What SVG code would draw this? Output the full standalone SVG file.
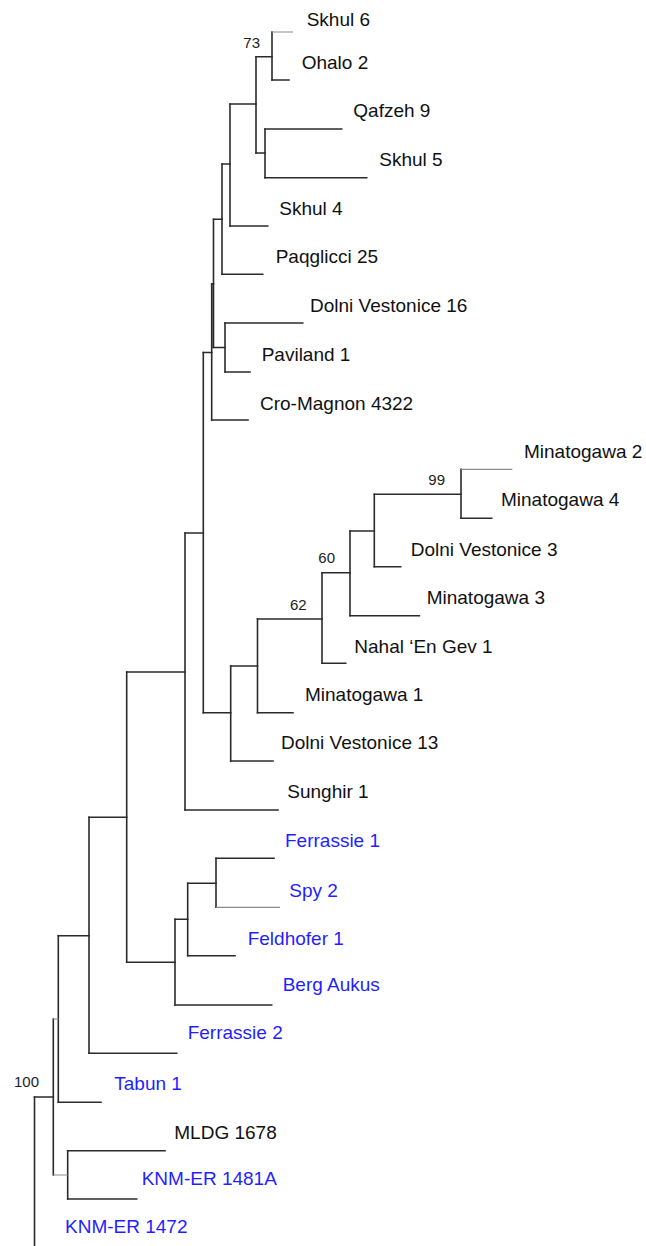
<svg xmlns="http://www.w3.org/2000/svg" width="646" height="1246" viewBox="0 0 646 1246">
<style>
.e{fill:none;stroke:#2b2b2b;stroke-width:1.6;stroke-linecap:square}
.g{fill:none;stroke:#8c8c8c;stroke-width:1.2}
.t{font-family:"Liberation Sans",Arial,sans-serif;font-size:19px;fill:#111}
.b{fill:#1f1fff}
.s{font-family:"Liberation Sans",Arial,sans-serif;font-size:15px;fill:#222}
</style>
<rect width="646" height="1246" fill="#fff"/>
<g id="connectors">
<!-- verticals -->
<path class="e" d="M272,32V80 M265,129V177.7 M256,56.7V153 M230,104V226 M222,164V274.3 M225,323V372 M213.5,219.3V347.5 M211.7,284V420 M461,469.3V518.3 M374.3,494.3V566.7 M350,531V615.7 M322,572.7V663.3 M257.5,619V712.7 M230.7,666V761 M203.3,352.5V712.7 M185,533V810 M216,858.3V907.3 M187.7,883.3V955.7 M175,919.3V1005 M126.7,672V962.3 M89,817.3V1053.3 M58.3,935.7V1102.3 M67.7,1150.7V1199 M53.3,1019V1175 M34.5,1097V1246"/>
<!-- internal horizontals -->
<path class="e" d="M256,56.7H272 M256,153H265 M230,104H256 M222,164H230 M213.5,219.3H222 M213.5,347.5H225 M211.7,284H213.5 M203.3,352.5H211.7 M374.3,494.3H461 M350,531H374.3 M322,572.7H350 M257.5,619H322 M230.7,666H257.5 M203.3,712.7H230.7 M185,533H203.3 M126.7,672H185 M187.7,883.3H216 M175,919.3H187.7 M126.7,962.3H175 M89,817.3H126.7 M58.3,935.7H89 M34.5,1097H53.3"/>
<path class="g" d="M53.3,1019H58.3 M53.3,1175H67.7"/>
<!-- tips -->
<path class="g" d="M272,32H293 M461,469.3H512.3 M216,907.3H280"/>
<path class="e" d="M272,80H289 M265,129H341.7 M265,177.7H366.7 M230,226H267.7 M222,274.3H262.7 M225,323H302.7 M225,372H250 M211.7,420H248 M461,518.3H491.7 M374.3,566.7H400.7 M350,615.7H419.3 M322,663.3H345.7 M257.5,712.7H293 M230.7,761H273 M185,810H278 M216,858.3H274 M187.7,955.7H235 M175,1005H271.7 M89,1053.3H176.7 M58.3,1102.3H101 M67.7,1150.7H165 M67.7,1199H136.7"/>
</g>
<g id="support">
<text class="s" x="243.3" y="47.7">73</text>
<text class="s" x="428.3" y="485">99</text>
<text class="s" x="318.3" y="563.3">60</text>
<text class="s" x="290" y="610">62</text>
<text class="s" x="14" y="1087.3">100</text>
</g>
<g id="skhul6"><text class="t" x="306.7" y="26">Skhul 6</text></g>
<g id="ohalo2"><text class="t" x="301.7" y="69">Ohalo 2</text></g>
<g id="qafzeh9"><text class="t" x="353.3" y="117">Qafzeh 9</text></g>
<g id="skhul5"><text class="t" x="379.3" y="166">Skhul 5</text></g>
<g id="skhul4"><text class="t" x="279.3" y="215">Skhul 4</text></g>
<g id="paqglicci25"><text class="t" x="275.7" y="263.3">Paqglicci 25</text></g>
<g id="dolnivestonice16"><text class="t" x="310" y="311.7">Dolni Vestonice 16</text></g>
<g id="paviland1"><text class="t" x="261.7" y="361">Paviland 1</text></g>
<g id="cromagnon4322"><text class="t" x="260" y="410">Cro-Magnon 4322</text></g>
<g id="minatogawa2"><text class="t" x="524" y="458.3">Minatogawa 2</text></g>
<g id="minatogawa4"><text class="t" x="501" y="506">Minatogawa 4</text></g>
<g id="dolnivestonice3"><text class="t" x="410.7" y="556">Dolni Vestonice 3</text></g>
<g id="minatogawa3"><text class="t" x="426.7" y="604">Minatogawa 3</text></g>
<g id="nahalengev1"><text class="t" x="354.3" y="652.7">Nahal ‘En Gev 1</text></g>
<g id="minatogawa1"><text class="t" x="305" y="700.7">Minatogawa 1</text></g>
<g id="dolnivestonice13"><text class="t" x="281" y="749">Dolni Vestonice 13</text></g>
<g id="sunghir1"><text class="t" x="287.3" y="798">Sunghir 1</text></g>
<g id="ferrassie1"><text class="t b" x="285" y="846.7">Ferrassie 1</text></g>
<g id="spy2"><text class="t b" x="289.3" y="896.7">Spy 2</text></g>
<g id="feldhofer1"><text class="t b" x="247.7" y="945">Feldhofer 1</text></g>
<g id="bergaukus"><text class="t b" x="282.7" y="990.7">Berg Aukus</text></g>
<g id="ferrassie2"><text class="t b" x="187.7" y="1039">Ferrassie 2</text></g>
<g id="tabun1"><text class="t b" x="114.3" y="1090">Tabun 1</text></g>
<g id="mldg1678"><text class="t" x="174.3" y="1139">MLDG 1678</text></g>
<g id="knmer1481a"><text class="t b" x="141.7" y="1185">KNM-ER 1481A</text></g>
<g id="knmer1472"><text class="t b" x="65" y="1232.7">KNM-ER 1472</text></g>
</svg>
